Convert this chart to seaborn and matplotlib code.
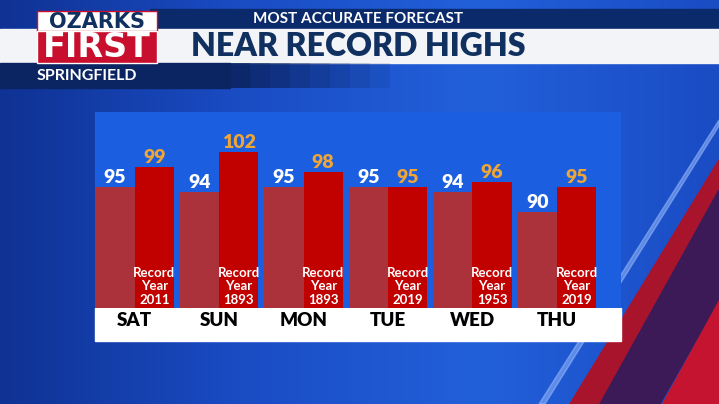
import numpy as np
import pandas as pd
import seaborn as sns
import matplotlib.pyplot as plt
from matplotlib.patches import Rectangle, Polygon
from matplotlib.colors import LinearSegmentedColormap

days = ["SAT", "SUN", "MON", "TUE", "WED", "THU"]
forecast_high = [95, 94, 95, 95, 94, 90]
record_high = [99, 102, 98, 95, 96, 95]
record_year = [2011, 1893, 1893, 2019, 1953, 2019]

W, H = 719, 404

df = pd.DataFrame({
    "day": days * 2,
    "temp": forecast_high + record_high,
    "kind": ["Forecast"] * len(days) + ["Record"] * len(days),
})

sns.set_theme(style="white")
plt.rcParams["font.family"] = ["Lato", "DejaVu Sans"]

fig = plt.figure(figsize=(7.19, 4.04), dpi=100, facecolor="#1a4cc4")


def box(x0, y0, x1, y1):
    # pixel box (top-left origin) -> figure fraction
    return [x0 / W, 1 - y1 / H, (x1 - x0) / W, (y1 - y0) / H]


# background / header layer in pixel coordinates
bg = fig.add_axes([0, 0, 1, 1], zorder=-1)
bg.set_xlim(0, W)
bg.set_ylim(H, 0)
bg.axis("off")

blue = LinearSegmentedColormap.from_list("bg", ["#0f3294", "#1a4cc4", "#2260da", "#1a4cc4"])
grad = np.linspace(0, 1, 256)[None, :]
bg.imshow(grad, extent=[0, W, H, 0], aspect="auto", cmap=blue, zorder=0)

# red diagonal stripes at the right
bg.add_patch(Polygon([(719, 160), (719, 190), (600, 404), (570, 404)], color="#a8142c", zorder=1))
bg.add_patch(Polygon([(719, 190), (719, 300), (660, 404), (600, 404)], color="#3c1a58", zorder=1))
bg.add_patch(Polygon([(719, 300), (719, 404), (662, 404)], color="#c41430", zorder=1))
bg.add_patch(Polygon([(719, 120), (719, 126), (545, 404), (539, 404)], color="#9fc0ff", alpha=0.5, zorder=1))

# header bands
bg.add_patch(Rectangle((150, 9), 569, 20, color="#0b2a6c", zorder=2))
bg.add_patch(Rectangle((0, 29), W, 34, color="#f3f4f7", zorder=2))
bg.add_patch(Rectangle((0, 63), 230, 25, color="#0b2462", zorder=2))
for i in range(8):
    bg.add_patch(Rectangle((230 + i * 20, 63), 20, 25, color="#0b2462",
                           alpha=0.9 - i * 0.11, lw=0, zorder=2))

bg.text(358, 19, "MOST ACCURATE FORECAST", color="white", fontsize=11,
        fontweight="bold", ha="center", va="center", zorder=3)
bg.text(358, 47, "NEAR RECORD HIGHS", color="#10305f", fontsize=23,
        fontweight="heavy", ha="center", va="center", zorder=3)
bg.text(37, 76, "SPRINGFIELD", color="white", fontsize=11.5,
        fontweight="bold", ha="left", va="center", zorder=3)

# logo
bg.add_patch(Rectangle((37, 11), 120, 20, facecolor="white", edgecolor="#c8102e", lw=1, zorder=3))
bg.add_patch(Rectangle((37, 31), 120, 32, facecolor="#c8102e", edgecolor="white", lw=1, zorder=3))
bg.text(97, 21.5, "OZARKS", color="#10305f", fontsize=15, fontweight="bold",
        family="DejaVu Sans", ha="center", va="center", zorder=4)
bg.text(97, 47.5, "FIRST", color="white", fontsize=24, fontweight="bold",
        family="DejaVu Sans", ha="center", va="center", zorder=4)

# white strip under the bars
bg.add_patch(Rectangle((95, 308), 526, 33, color="white", zorder=3))

# main chart
ax = fig.add_axes(box(95, 112, 621, 308))
sns.barplot(data=df, x="day", y="temp", hue="kind",
            palette=["#ab313b", "#c10000"], saturation=1, width=0.93,
            gap=0, linewidth=0, legend=False, ax=ax)
ax.set_facecolor("#1c5ee0")
ax.set_xlim(-0.47, 5.76)
ax.set_ylim(70.8, 110.0)
ax.set_xlabel("")
ax.set_ylabel("")
ax.set_yticks([])
sns.despine(ax=ax, left=True, bottom=True)
ax.tick_params(axis="x", length=0, pad=3, labelsize=13.5, labelcolor="black")
for lab in ax.get_xticklabels():
    lab.set_fontweight("heavy")

ax.bar_label(ax.containers[0], color="white", fontsize=14, fontweight="heavy", padding=0.5)
ax.bar_label(ax.containers[1], color="#f0a634", fontsize=14, fontweight="heavy", padding=0.5)

for bar, yr in zip(ax.containers[1], record_year):
    ax.text(bar.get_x() + bar.get_width() / 2, 0.012, f"Record\nYear\n{yr}",
            transform=ax.get_xaxis_transform(), ha="center", va="bottom",
            fontsize=9.5, color="white", fontweight="bold", linespacing=1.15)

fig.savefig("out.png", dpi=100, facecolor=fig.get_facecolor())
